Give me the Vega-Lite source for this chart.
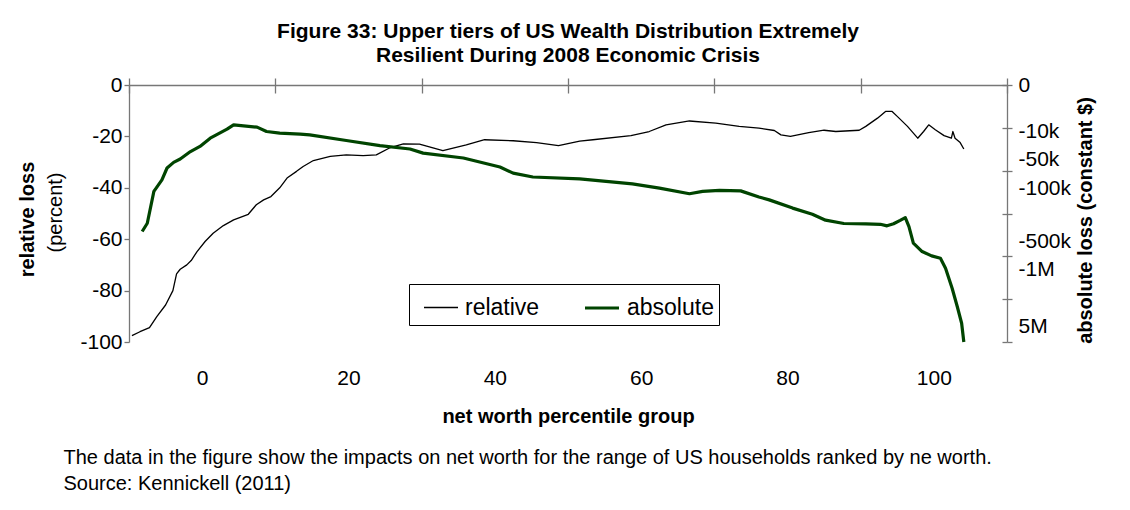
{
  "$schema": "https://vega.github.io/schema/vega-lite/v6.json",
  "width": 878,
  "height": 257,
  "autosize": {"type": "none"},
  "padding": {"left": 129, "top": 85, "right": 123, "bottom": 168},
  "background": "white",
  "config": {
    "view": {"stroke": null},
    "font": "Liberation Sans",
    "axis": {
      "grid": false,
      "domainColor": "#777777",
      "tickColor": "#777777",
      "domainWidth": 1.3,
      "tickWidth": 1.3,
      "labelColor": "black",
      "titleColor": "black",
      "labelFont": "Liberation Sans",
      "titleFont": "Liberation Sans",
      "labelFontSize": 21,
      "titleFontSize": 20,
      "labelFlush": false,
      "labelOverlap": false,
      "labelBound": false,
      "titleLimit": 2000
    }
  },
  "title": {
    "text": ["Figure 33: Upper tiers of US Wealth Distribution Extremely", "Resilient During 2008 Economic Crisis"],
    "font": "Liberation Sans",
    "fontSize": 21,
    "fontWeight": "bold",
    "color": "black",
    "anchor": "middle",
    "lineHeight": 24,
    "offset": 8
  },
  "data": {
    "values": [
      {"p": -9.6, "loss": -97.5, "series": "relative"},
      {"p": -8.5, "loss": -96.0, "series": "relative"},
      {"p": -7.2, "loss": -94.4, "series": "relative"},
      {"p": -6.2, "loss": -90.1, "series": "relative"},
      {"p": -5.0, "loss": -85.6, "series": "relative"},
      {"p": -4.0, "loss": -80.0, "series": "relative"},
      {"p": -3.5, "loss": -73.5, "series": "relative"},
      {"p": -3.0, "loss": -71.7, "series": "relative"},
      {"p": -2.1, "loss": -70.0, "series": "relative"},
      {"p": -1.5, "loss": -68.3, "series": "relative"},
      {"p": -0.7, "loss": -64.8, "series": "relative"},
      {"p": 0.4, "loss": -60.9, "series": "relative"},
      {"p": 1.5, "loss": -57.7, "series": "relative"},
      {"p": 2.9, "loss": -54.7, "series": "relative"},
      {"p": 4.3, "loss": -52.5, "series": "relative"},
      {"p": 6.3, "loss": -50.3, "series": "relative"},
      {"p": 7.4, "loss": -46.6, "series": "relative"},
      {"p": 8.4, "loss": -44.7, "series": "relative"},
      {"p": 9.4, "loss": -43.4, "series": "relative"},
      {"p": 10.6, "loss": -40.0, "series": "relative"},
      {"p": 11.6, "loss": -36.2, "series": "relative"},
      {"p": 12.9, "loss": -33.6, "series": "relative"},
      {"p": 13.8, "loss": -31.7, "series": "relative"},
      {"p": 15.2, "loss": -29.4, "series": "relative"},
      {"p": 17.5, "loss": -27.8, "series": "relative"},
      {"p": 19.7, "loss": -27.2, "series": "relative"},
      {"p": 22.0, "loss": -27.5, "series": "relative"},
      {"p": 23.8, "loss": -27.2, "series": "relative"},
      {"p": 25.6, "loss": -24.5, "series": "relative"},
      {"p": 27.5, "loss": -22.9, "series": "relative"},
      {"p": 29.7, "loss": -23.0, "series": "relative"},
      {"p": 32.9, "loss": -25.5, "series": "relative"},
      {"p": 36.1, "loss": -23.3, "series": "relative"},
      {"p": 38.6, "loss": -21.3, "series": "relative"},
      {"p": 42.5, "loss": -21.7, "series": "relative"},
      {"p": 45.7, "loss": -22.4, "series": "relative"},
      {"p": 48.7, "loss": -23.6, "series": "relative"},
      {"p": 51.6, "loss": -21.8, "series": "relative"},
      {"p": 53.4, "loss": -21.3, "series": "relative"},
      {"p": 58.6, "loss": -19.7, "series": "relative"},
      {"p": 61.1, "loss": -18.1, "series": "relative"},
      {"p": 63.4, "loss": -15.5, "series": "relative"},
      {"p": 66.6, "loss": -14.0, "series": "relative"},
      {"p": 70.2, "loss": -14.8, "series": "relative"},
      {"p": 73.4, "loss": -16.1, "series": "relative"},
      {"p": 76.1, "loss": -16.8, "series": "relative"},
      {"p": 78.2, "loss": -17.7, "series": "relative"},
      {"p": 79.1, "loss": -19.4, "series": "relative"},
      {"p": 80.4, "loss": -20.0, "series": "relative"},
      {"p": 82.9, "loss": -18.5, "series": "relative"},
      {"p": 85.0, "loss": -17.6, "series": "relative"},
      {"p": 86.6, "loss": -18.1, "series": "relative"},
      {"p": 89.8, "loss": -17.6, "series": "relative"},
      {"p": 90.7, "loss": -16.1, "series": "relative"},
      {"p": 92.3, "loss": -12.9, "series": "relative"},
      {"p": 93.4, "loss": -10.3, "series": "relative"},
      {"p": 94.3, "loss": -10.3, "series": "relative"},
      {"p": 95.0, "loss": -12.2, "series": "relative"},
      {"p": 96.4, "loss": -16.1, "series": "relative"},
      {"p": 97.8, "loss": -20.7, "series": "relative"},
      {"p": 98.6, "loss": -18.1, "series": "relative"},
      {"p": 99.3, "loss": -15.5, "series": "relative"},
      {"p": 100.2, "loss": -17.4, "series": "relative"},
      {"p": 101.4, "loss": -19.7, "series": "relative"},
      {"p": 102.4, "loss": -20.7, "series": "relative"},
      {"p": 102.6, "loss": -18.1, "series": "relative"},
      {"p": 102.9, "loss": -20.7, "series": "relative"},
      {"p": 103.6, "loss": -22.4, "series": "relative"},
      {"p": 104.1, "loss": -24.9, "series": "relative"},
      {"p": -8.2, "loss": -57.0, "series": "absolute"},
      {"p": -7.5, "loss": -53.8, "series": "absolute"},
      {"p": -6.6, "loss": -41.4, "series": "absolute"},
      {"p": -5.5, "loss": -36.9, "series": "absolute"},
      {"p": -4.8, "loss": -32.3, "series": "absolute"},
      {"p": -3.9, "loss": -30.1, "series": "absolute"},
      {"p": -3.0, "loss": -28.8, "series": "absolute"},
      {"p": -1.6, "loss": -25.9, "series": "absolute"},
      {"p": -0.3, "loss": -23.9, "series": "absolute"},
      {"p": 1.1, "loss": -20.7, "series": "absolute"},
      {"p": 3.4, "loss": -17.2, "series": "absolute"},
      {"p": 4.3, "loss": -15.5, "series": "absolute"},
      {"p": 7.5, "loss": -16.4, "series": "absolute"},
      {"p": 8.8, "loss": -18.1, "series": "absolute"},
      {"p": 10.6, "loss": -18.7, "series": "absolute"},
      {"p": 13.4, "loss": -19.1, "series": "absolute"},
      {"p": 14.7, "loss": -19.4, "series": "absolute"},
      {"p": 19.7, "loss": -21.6, "series": "absolute"},
      {"p": 24.3, "loss": -23.6, "series": "absolute"},
      {"p": 28.4, "loss": -24.9, "series": "absolute"},
      {"p": 30.2, "loss": -26.5, "series": "absolute"},
      {"p": 35.7, "loss": -28.4, "series": "absolute"},
      {"p": 40.7, "loss": -31.9, "series": "absolute"},
      {"p": 42.5, "loss": -34.3, "series": "absolute"},
      {"p": 45.2, "loss": -35.8, "series": "absolute"},
      {"p": 51.6, "loss": -36.5, "series": "absolute"},
      {"p": 58.8, "loss": -38.5, "series": "absolute"},
      {"p": 62.5, "loss": -40.1, "series": "absolute"},
      {"p": 66.6, "loss": -42.3, "series": "absolute"},
      {"p": 68.4, "loss": -41.4, "series": "absolute"},
      {"p": 70.7, "loss": -41.0, "series": "absolute"},
      {"p": 73.6, "loss": -41.2, "series": "absolute"},
      {"p": 76.1, "loss": -43.6, "series": "absolute"},
      {"p": 77.5, "loss": -44.7, "series": "absolute"},
      {"p": 80.7, "loss": -47.9, "series": "absolute"},
      {"p": 83.4, "loss": -50.3, "series": "absolute"},
      {"p": 85.2, "loss": -52.6, "series": "absolute"},
      {"p": 87.7, "loss": -53.9, "series": "absolute"},
      {"p": 90.7, "loss": -54.0, "series": "absolute"},
      {"p": 92.7, "loss": -54.2, "series": "absolute"},
      {"p": 93.6, "loss": -54.8, "series": "absolute"},
      {"p": 94.5, "loss": -54.0, "series": "absolute"},
      {"p": 95.4, "loss": -52.7, "series": "absolute"},
      {"p": 96.1, "loss": -51.6, "series": "absolute"},
      {"p": 96.6, "loss": -55.1, "series": "absolute"},
      {"p": 97.2, "loss": -61.5, "series": "absolute"},
      {"p": 98.4, "loss": -64.8, "series": "absolute"},
      {"p": 99.7, "loss": -66.5, "series": "absolute"},
      {"p": 100.9, "loss": -67.4, "series": "absolute"},
      {"p": 101.6, "loss": -71.3, "series": "absolute"},
      {"p": 102.5, "loss": -79.1, "series": "absolute"},
      {"p": 103.2, "loss": -86.2, "series": "absolute"},
      {"p": 103.8, "loss": -92.7, "series": "absolute"},
      {"p": 104.1, "loss": -100.0, "series": "absolute"}
    ]
  },
  "layer": [
    {
      "mark": {"type": "line", "strokeJoin": "round"},
      "encoding": {
        "x": {"field": "p", "type": "quantitative", "scale": {"domain": [-10, 110], "nice": false, "zero": false},
          "axis": {"orient": "top", "values": [-10, 10, 30, 50, 70, 90, 110], "labels": false, "tickSize": 7, "title": null}},
        "y": {"field": "loss", "type": "quantitative", "scale": {"domain": [-100, 0], "nice": false, "zero": false},
          "axis": {"orient": "left", "values": [0, -20, -40, -60, -80, -100], "tickSize": 5, "labelPadding": 2, "labelExpr": "'' + datum.value",
            "title": "relative loss", "titleFontWeight": "bold", "titleAngle": -90, "titleX": -102, "titleY": 134, "titleAlign": "center", "titleBaseline": "middle"}},
        "color": {"field": "series", "type": "nominal", "scale": {"domain": ["relative", "absolute"], "range": ["#000000", "#004400"]},
          "legend": {"title": null, "orient": "none", "legendX": 280, "legendY": 199, "direction": "horizontal", "strokeColor": "black", "fillColor": "white", "padding": 5, "symbolType": "stroke", "symbolSize": 1156, "symbolOffset": 9, "labelFontSize": 23, "labelFont": "Liberation Sans", "labelColor": "black", "labelOffset": 6, "columnPadding": 34}},
        "strokeWidth": {"field": "series", "type": "nominal", "scale": {"domain": ["relative", "absolute"], "range": [1.3, 3.2]},
          "legend": {"title": null, "orient": "none", "legendX": 280, "legendY": 199, "direction": "horizontal", "strokeColor": "black", "fillColor": "white", "padding": 5, "symbolType": "stroke", "symbolSize": 1156, "symbolOffset": 9, "labelFontSize": 23, "labelFont": "Liberation Sans", "labelColor": "black", "labelOffset": 6, "columnPadding": 34}}
      }
    },
    {
      "mark": {"type": "point", "opacity": 0},
      "encoding": {
        "x": {"field": "p", "type": "quantitative",
          "axis": {"orient": "top", "values": [-10, 10, 30, 50, 70, 90, 110], "labels": false, "domain": false, "tickSize": -8, "title": null}},
        "y": {"field": "loss", "type": "quantitative",
          "axis": {"orient": "right", "values": [0, -16.6667, -33.3333, -50, -66.6667, -83.3333, -100], "labels": false, "tickSize": 5,
            "title": "absolute loss (constant $)", "titleFontWeight": "bold", "titleAngle": -90, "titleX": 78, "titleY": 135, "titleAlign": "center", "titleBaseline": "middle"}}
      }
    },
    {
      "mark": {"type": "point", "opacity": 0},
      "encoding": {
        "x": {"field": "p", "type": "quantitative",
          "axis": {"orient": "bottom", "values": [0, 20, 40, 60, 80, 100], "ticks": false, "domain": false, "labelPadding": 25, "labelBaseline": "top",
            "title": "net worth percentile group", "titleFontWeight": "bold", "titleX": 439, "titleY": 80, "titleAlign": "center", "titleBaseline": "alphabetic"}},
        "y": {"field": "loss", "type": "quantitative",
          "axis": {"orient": "right", "values": [0, -16.6667, -33.3333, -50, -66.6667, -83.3333, -100], "labels": false, "domain": false, "tickSize": -5, "title": null}}
      }
    },
    {
      "mark": {"type": "point", "opacity": 0},
      "encoding": {
        "x": {"field": "p", "type": "quantitative",
          "axis": {"orient": "bottom", "labels": false, "ticks": false, "domain": false,
            "title": ["The data in the figure show  the impacts on net worth for the range of US households ranked by ne worth.", "Source: Kennickell (2011)"],
            "titleFontWeight": "normal", "titleFontSize": 20, "titleX": -66, "titleY": 121, "titleAlign": "left", "titleBaseline": "alphabetic", "titleLineHeight": 26, "titleAnchor": "start"}},
        "y": {"field": "loss", "type": "quantitative",
          "axis": {"orient": "right", "values": [0, -18.1, -29.1, -40.1, -60.9, -71.9, -94], "ticks": false, "domain": false, "labelPadding": 11, "labelAlign": "left", "labelBaseline": "middle",
            "labelExpr": "datum.value == 0 ? '0' : datum.value == -18.1 ? '-10k' : datum.value == -29.1 ? '-50k' : datum.value == -40.1 ? '-100k' : datum.value == -60.9 ? '-500k' : datum.value == -71.9 ? '-1M' : '5M'",
            "title": null}}
      }
    },
    {
      "mark": {"type": "point", "opacity": 0},
      "encoding": {
        "x": {"field": "p", "type": "quantitative", "axis": null},
        "y": {"field": "loss", "type": "quantitative",
          "axis": {"orient": "left", "labels": false, "ticks": false, "domain": false,
            "title": "(percent)", "titleFontWeight": "normal", "titleAngle": -90, "titleX": -74, "titleY": 127, "titleAlign": "center", "titleBaseline": "middle"}}
      }
    }
  ],
  "resolve": {"axis": {"x": "independent", "y": "independent"}}
}
